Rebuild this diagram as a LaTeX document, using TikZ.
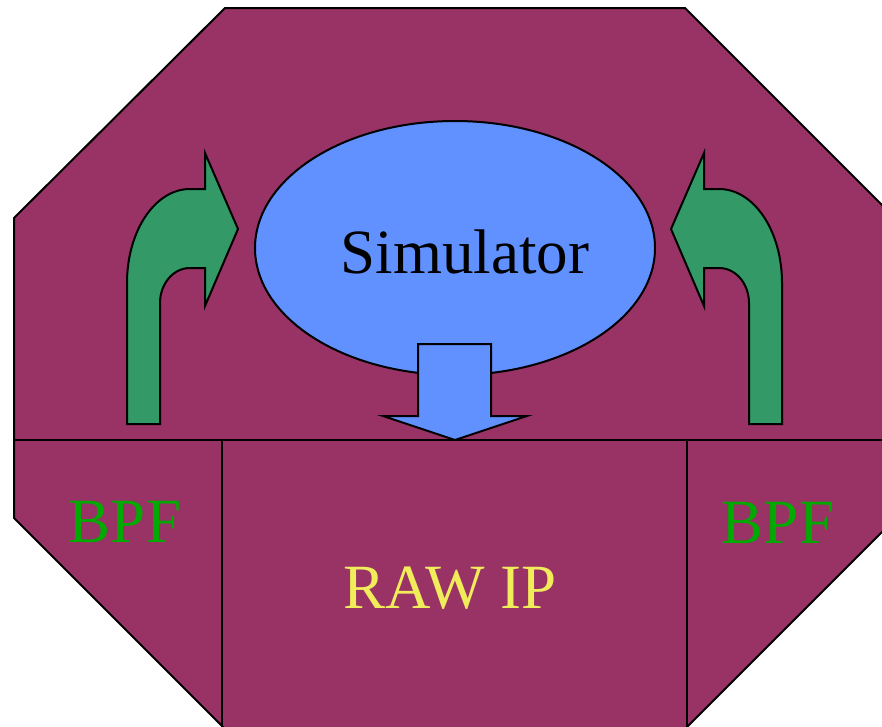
\documentclass[tikz,border=0pt]{standalone}
\usepackage{fontspec}
\setmainfont{Liberation Serif}
\newfontfamily\labelfont{Liberation Serif}
\usepackage{tikz}
\usetikzlibrary{shapes.geometric}

\definecolor{plum}{HTML}{993366}
\definecolor{arrowgreen}{HTML}{339966}
\definecolor{simblue}{HTML}{6190FF}
\definecolor{bpfgreen}{HTML}{00AA00}
\definecolor{rawyellow}{HTML}{F0EC5A}

% bent arrow turning right, in pixel units
\newcommand{\bendarrow}{%
  (127,424) -- (127,283) .. controls (127,231) and (155,189) .. (190,189)
  -- (205,189) -- (205,153) -- (238,229) -- (205,306) -- (205,268) -- (190,268)
  .. controls (173,268) and (160,284) .. (160,303) -- (160,424) -- cycle}

\begin{document}
\begin{tikzpicture}[
    x=1pt, y=-1pt,
    outline/.style={draw=black, line width=2pt, line join=miter},
    big/.style={font=\labelfont\fontsize{63}{70}\selectfont, anchor=base, inner sep=0pt},
    bent/.style={outline, fill=arrowgreen}
]
\useasboundingbox (0,0) rectangle (882,726);
\clip (0,0) rectangle (882,726);

% octagon body and its partitions
\draw[outline, fill=plum] (225,8) -- (685,8) -- (896,219) -- (896,518)
  -- (674,740) -- (236,740) -- (14,518) -- (14,218) -- cycle;
\draw[outline] (14,440) -- (896,440);
\draw[outline] (222,440) -- (222,740);
\draw[outline] (687,440) -- (687,740);

% simulator
\node[ellipse, outline, fill=simblue, minimum width=400pt, minimum height=254pt,
      inner sep=0pt] (sim) at (455,248) {};
\node[big] (simlabel) at (465,273) {Simulator};

% down arrow into raw ip
\draw[outline, fill=simblue] (418,344) -- (491,344) -- (491,416) -- (527,416)
  -- (455,440) -- (383,416) -- (418,416) -- cycle;

% bent arrows on both sides
\draw[bent] \bendarrow;
\begin{scope}[shift={(909,0)}, xscale=-1]
  \draw[bent] \bendarrow;
\end{scope}

% labels
\node[big, text=bpfgreen] (bpfleft) at (125,542) {BPF};
\node[big, text=bpfgreen] (bpfright) at (778,543) {BPF};
\node[big, text=rawyellow] (rawip) at (450,608) {RAW IP};
\end{tikzpicture}
\end{document}
